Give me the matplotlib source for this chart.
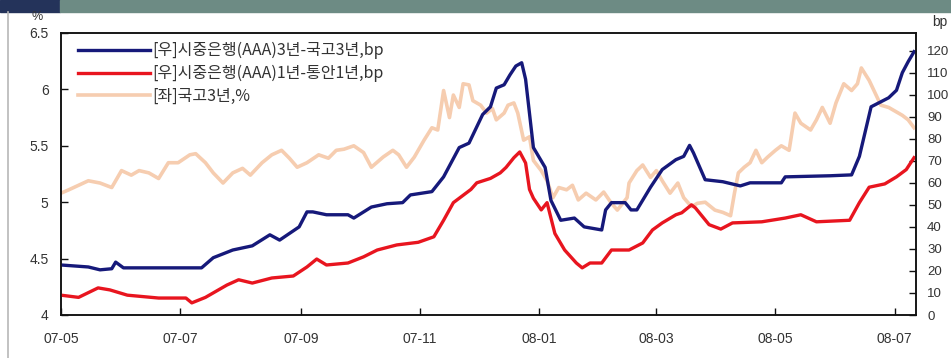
import pandas as pd
import matplotlib
matplotlib.use("Agg")
import matplotlib.pyplot as plt
import matplotlib.dates as mdates
from matplotlib.patches import Rectangle
from matplotlib.lines import Line2D

# [우] 시중은행(AAA) 3년 - 국고 3년 스프레드, bp
spread3_dates = [
    "2007-05-01", "2007-05-15", "2007-05-21", "2007-05-27", "2007-05-29", "2007-06-02",
    "2007-06-20", "2007-07-12", "2007-07-18", "2007-07-28", "2007-08-07", "2007-08-16",
    "2007-08-21", "2007-08-31", "2007-09-04", "2007-09-07", "2007-09-14", "2007-09-25",
    "2007-09-28", "2007-10-07", "2007-10-15", "2007-10-23", "2007-10-27", "2007-11-07",
    "2007-11-13", "2007-11-21", "2007-11-26", "2007-12-03", "2007-12-07", "2007-12-10",
    "2007-12-14", "2007-12-17", "2007-12-20", "2007-12-23", "2007-12-25", "2007-12-29",
    "2008-01-04", "2008-01-07", "2008-01-12", "2008-01-19", "2008-01-24", "2008-02-02",
    "2008-02-04", "2008-02-07", "2008-02-14", "2008-02-17", "2008-02-20", "2008-02-27",
    "2008-03-04", "2008-03-11", "2008-03-15", "2008-03-18", "2008-03-20", "2008-03-26",
    "2008-04-04", "2008-04-13", "2008-04-18", "2008-05-04", "2008-05-06", "2008-05-29",
    "2008-06-09", "2008-06-13", "2008-06-19", "2008-06-28", "2008-07-02", "2008-07-05",
    "2008-07-08", "2008-07-11",
]
spread3_bp = [
    22.7, 21.8, 20.5, 21.0, 24.0, 21.4,
    21.4, 21.4, 26.0, 29.5, 31.4, 36.4,
    34.0, 40.0, 46.8, 46.8, 45.5, 45.5,
    44.0, 49.0, 50.5, 51.0, 54.5, 56.0,
    62.7, 76.0, 78.0, 91.0, 94.5, 103.0,
    104.5, 109.0, 113.0, 114.5, 107.0, 76.0,
    67.0, 52.0, 43.0, 44.0, 40.0, 38.6,
    47.7, 51.0, 51.0, 47.7, 47.7, 58.0,
    66.0, 70.5, 72.0, 77.0, 73.6, 61.4,
    60.5, 58.6, 60.0, 60.0, 62.7, 63.2,
    63.6, 72.0, 94.5, 98.6, 102.0, 110.0,
    115.0, 119.5,
]

# [우] 시중은행(AAA) 1년 - 통안 1년 스프레드, bp
spread1_dates = [
    "2007-05-01", "2007-05-10", "2007-05-20", "2007-05-26", "2007-06-04", "2007-06-20",
    "2007-07-04", "2007-07-07", "2007-07-14", "2007-07-25", "2007-07-31", "2007-08-07",
    "2007-08-17", "2007-08-28", "2007-09-04", "2007-09-09", "2007-09-14", "2007-09-25",
    "2007-10-03", "2007-10-10", "2007-10-20", "2007-10-31", "2007-11-08", "2007-11-13",
    "2007-11-18", "2007-11-27", "2007-11-30", "2007-12-07", "2007-12-12", "2007-12-15",
    "2007-12-19", "2007-12-22", "2007-12-25", "2007-12-27", "2007-12-29", "2008-01-02",
    "2008-01-05", "2008-01-09", "2008-01-14", "2008-01-20", "2008-01-23", "2008-01-27",
    "2008-02-02", "2008-02-07", "2008-02-16", "2008-02-23", "2008-02-28", "2008-03-04",
    "2008-03-11", "2008-03-14", "2008-03-19", "2008-03-21", "2008-03-28", "2008-04-03",
    "2008-04-09", "2008-04-24", "2008-05-06", "2008-05-14", "2008-05-22", "2008-06-08",
    "2008-06-13", "2008-06-18", "2008-06-26", "2008-07-02", "2008-07-07", "2008-07-11",
]
spread1_bp = [
    9.0, 8.0, 12.3, 11.4, 9.0, 7.7,
    7.7, 5.5, 8.0, 13.6, 16.0, 14.5,
    16.8, 17.7, 21.8, 25.4, 22.7, 23.6,
    26.4, 29.5, 31.8, 33.0, 35.5, 43.0,
    51.0, 57.0, 60.0, 62.0, 64.5, 67.0,
    71.4, 74.0, 69.0, 57.0, 53.0, 47.7,
    51.0, 37.0, 29.5, 23.6, 21.4, 23.6,
    23.6, 29.5, 29.5, 32.7, 38.6, 41.8,
    45.5, 46.4, 50.0, 48.6, 41.0, 39.0,
    41.8, 42.3, 44.0, 45.5, 42.3, 43.0,
    51.0, 58.0, 59.5, 62.7, 66.0, 71.4,
]

# [좌] 국고 3년 금리, %
ktb3_dates = [
    "2007-05-01", "2007-05-05", "2007-05-10", "2007-05-15", "2007-05-21", "2007-05-27",
    "2007-06-01", "2007-06-06", "2007-06-10", "2007-06-15", "2007-06-20", "2007-06-25",
    "2007-06-30", "2007-07-06", "2007-07-09", "2007-07-14", "2007-07-18", "2007-07-23",
    "2007-07-28", "2007-08-02", "2007-08-06", "2007-08-12", "2007-08-17", "2007-08-22",
    "2007-08-26", "2007-08-30", "2007-09-04", "2007-09-10", "2007-09-15", "2007-09-19",
    "2007-09-23", "2007-09-28", "2007-10-03", "2007-10-07", "2007-10-13", "2007-10-18",
    "2007-10-21", "2007-10-25", "2007-10-29", "2007-11-03", "2007-11-07", "2007-11-10",
    "2007-11-13", "2007-11-16", "2007-11-18", "2007-11-21", "2007-11-23", "2007-11-26",
    "2007-11-28", "2007-12-02", "2007-12-05", "2007-12-08", "2007-12-10", "2007-12-14",
    "2007-12-16", "2007-12-19", "2007-12-21", "2007-12-24", "2007-12-27", "2007-12-29",
    "2008-01-02", "2008-01-05", "2008-01-08", "2008-01-11", "2008-01-15", "2008-01-18",
    "2008-01-21", "2008-01-25", "2008-01-30", "2008-02-03", "2008-02-07", "2008-02-10",
    "2008-02-15", "2008-02-16", "2008-02-20", "2008-02-23", "2008-02-27", "2008-03-01",
    "2008-03-04", "2008-03-08", "2008-03-12", "2008-03-15", "2008-03-19", "2008-03-22",
    "2008-03-26", "2008-03-31", "2008-04-04", "2008-04-08", "2008-04-10", "2008-04-12",
    "2008-04-15", "2008-04-18", "2008-04-21", "2008-04-24", "2008-04-27", "2008-05-01",
    "2008-05-04", "2008-05-08", "2008-05-11", "2008-05-14", "2008-05-19", "2008-05-22",
    "2008-05-25", "2008-05-29", "2008-06-01", "2008-06-05", "2008-06-09", "2008-06-12",
    "2008-06-14", "2008-06-18", "2008-06-21", "2008-06-24", "2008-06-28", "2008-07-02",
    "2008-07-05", "2008-07-08", "2008-07-11",
]
ktb3_pct = [
    5.08, 5.11, 5.15, 5.19, 5.17, 5.13,
    5.28, 5.24, 5.28, 5.26, 5.21, 5.35,
    5.35, 5.42, 5.43, 5.35, 5.26, 5.17,
    5.26, 5.30, 5.24, 5.35, 5.42, 5.46,
    5.39, 5.31, 5.35, 5.42, 5.39, 5.46,
    5.47, 5.50, 5.44, 5.31, 5.40, 5.46,
    5.42, 5.31, 5.40, 5.55, 5.66, 5.64,
    5.99, 5.75, 5.95, 5.84, 6.05, 6.04,
    5.90, 5.86, 5.79, 5.83, 5.73, 5.79,
    5.86, 5.88, 5.79, 5.55, 5.58, 5.37,
    5.28, 5.19, 5.04, 5.13, 5.11, 5.15,
    5.02, 5.08, 5.02, 5.09, 4.99, 4.93,
    5.04, 5.17, 5.28, 5.33, 5.22, 5.28,
    5.19, 5.08, 5.17, 5.04, 4.96, 4.99,
    5.00, 4.93, 4.91, 4.88, 5.08, 5.26,
    5.31, 5.35, 5.46, 5.35, 5.40, 5.46,
    5.50, 5.46, 5.79, 5.70, 5.64, 5.73,
    5.84, 5.70, 5.88, 6.05, 5.99, 6.05,
    6.19, 6.08, 5.97, 5.86, 5.84, 5.80,
    5.77, 5.73, 5.66,
]

labels = ["[우]시중은행(AAA)3년-국고3년,bp",
          "[우]시중은행(AAA)1년-통안1년,bp",
          "[좌]국고3년,%"]

NAVY = "#16197a"
RED = "#e8151f"
PEACH = "#f6cdb0"
TEXT = "#333333"

plt.rcParams["font.family"] = ["Liberation Sans", "DejaVu Sans"]
plt.rcParams["font.size"] = 10

fig = plt.figure(figsize=(9.51, 3.58), dpi=100)

# header strip and left rule
fig.patches.append(Rectangle((0, 1 - 12 / 358), 60 / 951, 12 / 358,
                             transform=fig.transFigure, color="#24335a", zorder=0))
fig.patches.append(Rectangle((60 / 951, 1 - 12 / 358), 1 - 60 / 951, 12 / 358,
                             transform=fig.transFigure, color="#6d8b84", zorder=0))
fig.lines.append(Line2D([8 / 951, 8 / 951], [0, 1 - 12 / 358], transform=fig.transFigure,
                        color="#b8b8b8", lw=1.2))

ax = fig.add_axes([61 / 951, 1 - 315 / 358, 855 / 951, 282 / 358])
ax2 = ax.twinx()

d_ktb = pd.to_datetime(ktb3_dates)
d_s3 = pd.to_datetime(spread3_dates)
d_s1 = pd.to_datetime(spread1_dates)

l_ktb, = ax.plot(d_ktb, ktb3_pct, color=PEACH, lw=2.6, solid_joinstyle="round")
l_s3, = ax2.plot(d_s3, spread3_bp, color=NAVY, lw=2.4, solid_joinstyle="round")
l_s1, = ax2.plot(d_s1, spread1_bp, color=RED, lw=2.4, solid_joinstyle="round")

ax.set_xlim(pd.Timestamp("2007-05-01"), pd.Timestamp("2008-07-12"))
ax.set_ylim(4, 6.5)
ax.set_yticks([4, 4.5, 5, 5.5, 6, 6.5])
ax.set_yticklabels(["4", "4.5", "5", "5.5", "6", "6.5"])
ax2.set_ylim(0, 128)
ax2.set_yticks(range(0, 121, 10))

ax.xaxis.set_major_locator(mdates.MonthLocator(bymonth=[1, 3, 5, 7, 9, 11]))
ax.xaxis.set_major_formatter(mdates.DateFormatter("%y-%m"))

for a in (ax, ax2):
    for s in a.spines.values():
        s.set_linewidth(1.1)
        s.set_color("#111111")
ax.tick_params(axis="both", direction="in", length=5, width=1, colors="#111111",
               labelcolor=TEXT, labelsize=10)
ax.tick_params(axis="x", pad=12)
ax.tick_params(axis="y", pad=9)
ax2.tick_params(axis="y", direction="in", length=5, width=1, colors="#111111",
                labelcolor=TEXT, labelsize=9.5, pad=8)

fig.text(37 / 951, 1 - 17 / 358, "%", ha="center", va="center", fontsize=9, color=TEXT)
fig.text(940 / 951, 1 - 22 / 358, "bp", ha="center", va="center", fontsize=10, color=TEXT)

fig.legend([l_s3, l_s1, l_ktb], labels, loc="upper left",
           bbox_to_anchor=(78 / 951, 1 - 42 / 358), frameon=False,
           prop={"family": ["Noto Sans CJK KR", "DejaVu Sans"], "size": 11.5},
           labelcolor=TEXT, handlelength=4.5, handletextpad=0.12,
           labelspacing=0.36, borderaxespad=0, borderpad=0)

fig.savefig("out.png", dpi=100)
